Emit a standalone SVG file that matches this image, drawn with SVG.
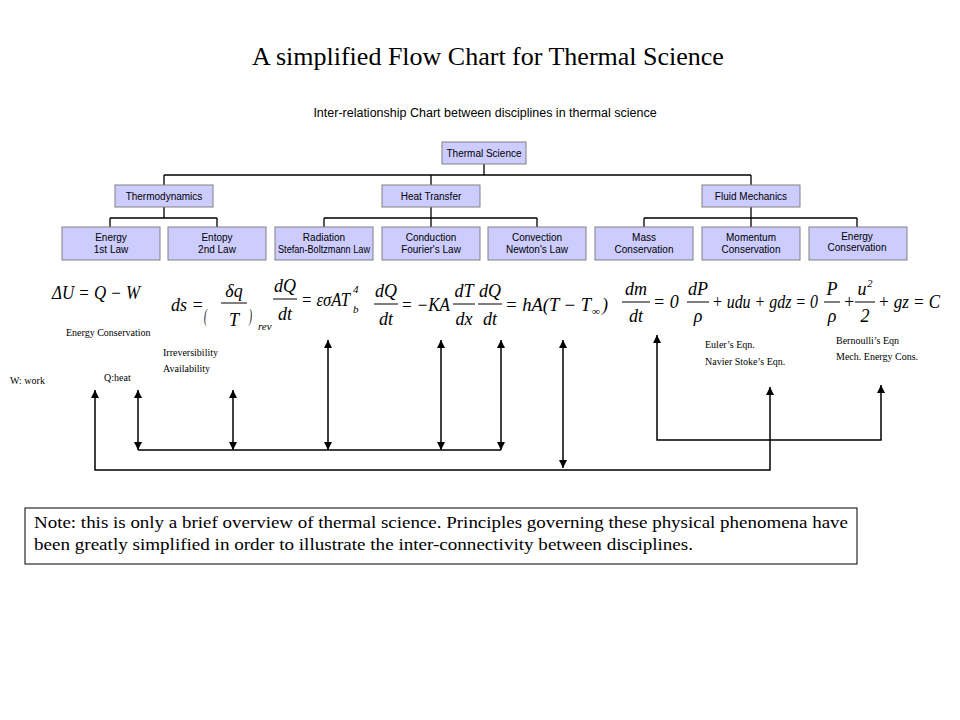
<svg xmlns="http://www.w3.org/2000/svg" width="960" height="720" viewBox="0 0 960 720">
<defs>
<marker id="ah" viewBox="0 0 10 10" refX="10" refY="5" markerWidth="8" markerHeight="8" markerUnits="userSpaceOnUse" orient="auto-start-reverse"><path d="M0,0 L10,5 L0,10 z" fill="#000"/></marker>
<style>
.box{fill:#ccccff;stroke:#808080;stroke-width:1}
.bt{font-family:"Liberation Sans",Arial,sans-serif;font-size:10px;text-anchor:middle;fill:#000}
.tl{fill:none;stroke:#000;stroke-width:1.3}
.ar{fill:none;stroke:#000;stroke-width:1.5}
.eq{font-family:"Liberation Serif","Times New Roman",serif;font-style:italic;font-size:18px;fill:#000}
.fr{font-family:"Liberation Serif","Times New Roman",serif;font-style:italic;font-size:18px;fill:#000;text-anchor:middle}
.sm{font-family:"Liberation Serif","Times New Roman",serif;font-style:italic;font-size:11px;fill:#000}
.lb{font-family:"Liberation Serif","Times New Roman",serif;font-size:10px;fill:#000}
</style>
</defs>
<rect width="960" height="720" fill="#fff"/>
<text x="488" y="65" text-anchor="middle" font-family="Liberation Serif,Times New Roman,serif" font-size="26">A simplified Flow Chart for Thermal Science</text>
<text x="485" y="117" text-anchor="middle" font-family="Liberation Sans,Arial,sans-serif" font-size="12.5">Inter-relationship Chart between disciplines in thermal science</text>
<g id="tree-lines">
<path class="tl" d="M484,164 V175 M164,175 H751 M164,175 V185 M431,175 V185 M751,175 V185 M164,207 V218 M110,218 H217 M110,218 V227 M217,218 V227 M431,207 V218 M324,218 H537 M324,218 V227 M431,218 V227 M537,218 V227 M751,207 V218 M644,218 H857 M644,218 V227 M751,218 V227 M857,218 V227"/>
</g>
<g id="thermal-science"><rect class="box" x="442" y="142" width="84" height="22"/><text class="bt" x="484" y="157">Thermal Science</text></g>
<g id="thermodynamics"><rect class="box" x="115" y="185" width="98" height="22"/><text class="bt" x="164" y="200">Thermodynamics</text></g>
<g id="heat-transfer"><rect class="box" x="382" y="185" width="98" height="22"/><text class="bt" x="431" y="200">Heat Transfer</text></g>
<g id="fluid-mechanics"><rect class="box" x="702" y="185" width="98" height="22"/><text class="bt" x="751" y="200">Fluid Mechanics</text></g>
<g id="energy-1st"><rect class="box" x="62" y="227" width="98" height="33"/><text class="bt" x="111" y="241">Energy</text><text class="bt" x="111" y="253">1st Law</text></g>
<g id="entropy-2nd"><rect class="box" x="168" y="227" width="98" height="33"/><text class="bt" x="217" y="241">Entopy</text><text class="bt" x="217" y="253">2nd Law</text></g>
<g id="radiation"><rect class="box" x="275" y="227" width="98" height="33"/><text class="bt" x="324" y="241">Radiation</text><text class="bt" x="324" y="253" textLength="92" lengthAdjust="spacingAndGlyphs">Stefan-Boltzmann Law</text></g>
<g id="conduction"><rect class="box" x="382" y="227" width="98" height="33"/><text class="bt" x="431" y="241">Conduction</text><text class="bt" x="431" y="253">Fourier's Law</text></g>
<g id="convection"><rect class="box" x="488" y="227" width="98" height="33"/><text class="bt" x="537" y="241">Convection</text><text class="bt" x="537" y="253">Newton's Law</text></g>
<g id="mass"><rect class="box" x="595" y="227" width="98" height="33"/><text class="bt" x="644" y="241">Mass</text><text class="bt" x="644" y="253">Conservation</text></g>
<g id="momentum"><rect class="box" x="702" y="227" width="98" height="33"/><text class="bt" x="751" y="241">Momentum</text><text class="bt" x="751" y="253">Conservation</text></g>
<g id="energy-cons"><rect class="box" x="809" y="227" width="98" height="33"/><text class="bt" x="857" y="240" font-size="8.5">Energy</text><text class="bt" x="857" y="251" font-size="8.5">Conservation</text></g>

<g id="equations">
<text class="eq" x="52" y="299" textLength="88" lengthAdjust="spacingAndGlyphs">ΔU = Q − W</text>
<text class="eq" x="171" y="311">ds =</text>
<text class="eq" font-style="normal" font-size="50" transform="translate(204,322) scale(0.5,1)">(</text>
<text class="fr" x="234" y="297">δq</text><line x1="221" y1="303" x2="247" y2="303" stroke="#000"/><text class="fr" x="234" y="326">T</text>
<text class="eq" font-style="normal" font-size="50" transform="translate(249,322) scale(0.5,1)">)</text>
<text class="sm" x="258" y="330">rev</text>

<text class="fr" x="285" y="292">dQ</text><line x1="273" y1="299" x2="297" y2="299" stroke="#000"/><text class="fr" x="285" y="320">dt</text>
<text class="eq" x="301" y="306" textLength="49" lengthAdjust="spacingAndGlyphs">= εσAT</text><text class="sm" x="353" y="313">b</text><text class="sm" x="353" y="293">4</text>

<text class="fr" x="386" y="297">dQ</text><line x1="374" y1="304" x2="398" y2="304" stroke="#000"/><text class="fr" x="386" y="325">dt</text>
<text class="eq" x="401" y="311" textLength="49" lengthAdjust="spacingAndGlyphs">= −KA</text>
<text class="fr" x="464" y="297">dT</text><line x1="453" y1="304" x2="475" y2="304" stroke="#000"/><text class="fr" x="464" y="325">dx</text>
<text class="fr" x="490" y="297">dQ</text><line x1="478" y1="304" x2="502" y2="304" stroke="#000"/><text class="fr" x="490" y="325">dt</text>
<text class="eq" x="505" y="311" textLength="86" lengthAdjust="spacingAndGlyphs">= hA(T − T</text><text class="sm" x="592" y="315">∞</text><text class="eq" font-style="normal" x="602" y="311">)</text>

<text class="fr" x="636" y="295">dm</text><line x1="622" y1="302" x2="650" y2="302" stroke="#000"/><text class="fr" x="636" y="322">dt</text>
<text class="eq" x="653" y="308" font-style="normal">= 0</text>
<text class="fr" x="698" y="295">dP</text><line x1="687" y1="302" x2="709" y2="302" stroke="#000"/><text class="fr" x="698" y="322">ρ</text>
<text class="eq" x="712" y="308" textLength="106" lengthAdjust="spacingAndGlyphs">+ udu + gdz = 0</text>
<text class="fr" x="832" y="295">P</text><line x1="824" y1="302" x2="840" y2="302" stroke="#000"/><text class="fr" x="832" y="322">ρ</text>
<text class="eq" x="843" y="308" font-style="normal">+</text>
<text class="fr" x="862" y="295">u</text><text class="sm" x="867" y="287" font-style="normal">2</text><line x1="855" y1="302" x2="875" y2="302" stroke="#000"/><text class="fr" x="865" y="322" font-style="normal">2</text>
<text class="eq" x="878" y="308" textLength="62" lengthAdjust="spacingAndGlyphs">+ gz = C</text>
</g>

<g id="labels">
<text class="lb" x="66" y="336">Energy Conservation</text>
<text class="lb" x="10" y="384">W:  work</text>
<text class="lb" x="104" y="381" font-size="12">Q:heat</text>
<text class="lb" x="163" y="356">Irreversibility</text>
<text class="lb" x="163" y="372">Availability</text>
<text class="lb" x="705" y="348">Euler’s  Eqn.</text>
<text class="lb" x="705" y="365">Navier Stoke’s Eqn.</text>
<text class="lb" x="836" y="344">Bernoulli’s Eqn</text>
<text class="lb" x="836" y="360">Mech. Energy Cons.</text>
</g>

<g id="connectors">
<line class="ar" x1="138" y1="450" x2="138" y2="390" marker-start="url(#ah)" marker-end="url(#ah)"/>
<line class="ar" x1="233" y1="450" x2="233" y2="390" marker-start="url(#ah)" marker-end="url(#ah)"/>
<line class="ar" x1="328" y1="450" x2="328" y2="340" marker-start="url(#ah)" marker-end="url(#ah)"/>
<line class="ar" x1="441" y1="450" x2="441" y2="340" marker-start="url(#ah)" marker-end="url(#ah)"/>
<line class="ar" x1="501" y1="450" x2="501" y2="340" marker-start="url(#ah)" marker-end="url(#ah)"/>
<line class="ar" x1="138" y1="450" x2="501" y2="450"/>
<line class="ar" x1="563" y1="468" x2="563" y2="340" marker-start="url(#ah)" marker-end="url(#ah)"/>
<polyline class="ar" points="95,390 95,470 770,470 770,387" marker-start="url(#ah)" marker-end="url(#ah)"/>
<polyline class="ar" points="657,335 657,440 881,440 881,385" marker-start="url(#ah)" marker-end="url(#ah)"/>
</g>

<g id="note">
<rect x="25" y="508" width="832" height="56" fill="#fff" stroke="#000" stroke-width="1"/>
<text x="34" y="528" font-family="Liberation Serif,Times New Roman,serif" font-size="16" textLength="814" lengthAdjust="spacingAndGlyphs">Note: this is only a brief overview of thermal science.  Principles governing these physical phenomena have</text>
<text x="34" y="550" font-family="Liberation Serif,Times New Roman,serif" font-size="16" textLength="659" lengthAdjust="spacingAndGlyphs">been greatly simplified in order to illustrate the inter-connectivity between disciplines.</text>
</g>
</svg>
